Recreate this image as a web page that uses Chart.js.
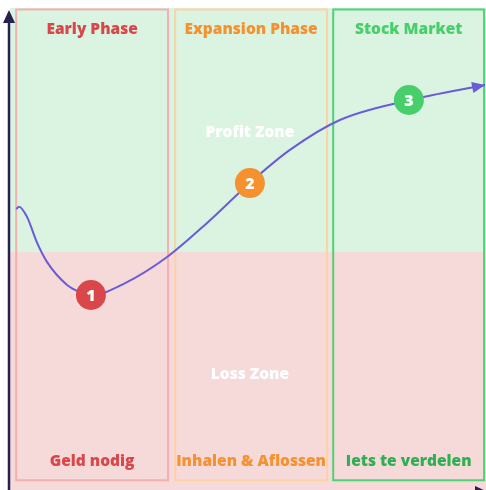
<!DOCTYPE html>
<html>
<head>
<meta charset="utf-8">
<script src="https://cdn.jsdelivr.net/npm/chart.js@4/dist/chart.umd.min.js"></script>
<style>
  body { margin: 0; background: #fff; }
  canvas { display: block; }
</style>
</head>
<body>
<canvas id="chart" width="486" height="490"></canvas>
<script>
// Phases (x in % of the time axis)
const phaseTitles = ['Early Phase', 'Expansion Phase', 'Stock Market'];
const phaseNotes = ['Geld nodig', 'Inhalen & Aflossen', 'Iets te verdelen'];
const phaseStart = [1.3, 34.7, 67.9];
const phaseEnd = [33.2, 66.6, 99.6];

// Zones
const zoneLabels = ['Profit Zone', 'Loss Zone'];

// Growth curve
const curveX = [1.3, 1.9, 3.6, 5.7, 7.8, 12.0, 14.7, 17.2, 24.2, 33.0, 41.4, 50.6, 58.8, 69.3, 84.0, 99.8];
const curveY = [17.4, 18.4, 14.1, 3.5, -4.4, -13.8, -16.7, -17.9, -13.0, -2.3, 11.7, 28.5, 41.7, 54.0, 62.2, 68.4];

// Numbered markers
const markerLabels = ['1', '2', '3'];
const markerX = [17.0, 50.4, 83.8];
const markerY = [-17.9, 28.1, 62.2];

const phaseColors = ['#d9474a', '#f5922f', '#48cf6c'];
const noteColors = ['#d9474a', '#f5922f', '#2fae52'];
const boxColors = ['#f2b0b0', '#fcd2a6', '#4fd174'];
const FONT = '"Open Sans", "DejaVu Sans", sans-serif';

const decor = {
  id: 'decor',
  beforeDatasetsDraw(chart) {
    const {ctx, chartArea: a, scales: {x, y}} = chart;
    ctx.save();
    // zones
    const y0 = y.getPixelForValue(0);
    ctx.fillStyle = '#daf4e1';
    ctx.fillRect(a.left, a.top, a.right - a.left, y0 - a.top);
    ctx.fillStyle = '#f6d9d9';
    ctx.fillRect(a.left, y0, a.right - a.left, a.bottom - y0);

    // phase boxes
    ctx.lineWidth = 2;
    phaseTitles.forEach((t, i) => {
      const l = x.getPixelForValue(phaseStart[i]);
      const r = x.getPixelForValue(phaseEnd[i]);
      const top = y.getPixelForValue(99.4);
      const bot = y.getPixelForValue(-94);
      ctx.strokeStyle = boxColors[i];
      ctx.strokeRect(l, top, r - l, bot - top);
      const cx = (l + r) / 2;
      ctx.textAlign = 'center';
      ctx.textBaseline = 'middle';
      ctx.font = '800 15.5px ' + FONT;
      ctx.fillStyle = phaseColors[i];
      ctx.fillText(t, cx, y.getPixelForValue(91.0));
      ctx.fillStyle = noteColors[i];
      ctx.fillText(phaseNotes[i], cx, y.getPixelForValue(-86.2));
    });

    // zone labels
    ctx.font = '800 15.5px ' + FONT;
    ctx.fillStyle = '#ffffff';
    ctx.fillText(zoneLabels[0], x.getPixelForValue(50.4), y.getPixelForValue(49.0));
    ctx.fillText(zoneLabels[1], x.getPixelForValue(50.4), y.getPixelForValue(-50.7));
    ctx.restore();
  },
  afterDatasetsDraw(chart) {
    const {ctx, chartArea: a, scales: {x, y}} = chart;
    ctx.save();
    // arrow head at end of curve
    const n = curveX.length;
    const px = x.getPixelForValue(curveX[n - 1]), py = y.getPixelForValue(curveY[n - 1]);
    const qx = x.getPixelForValue(curveX[n - 2]), qy = y.getPixelForValue(curveY[n - 2]);
    const ang = Math.atan2(py - qy, px - qx);
    ctx.fillStyle = '#6a5bd8';
    arrow(ctx, px, py, ang, 13, 5.5);

    // marker numbers
    ctx.font = '800 16px ' + FONT;
    ctx.fillStyle = '#fff';
    ctx.textAlign = 'center';
    ctx.textBaseline = 'middle';
    markerLabels.forEach((m, i) => {
      ctx.fillText(m, x.getPixelForValue(markerX[i]), y.getPixelForValue(markerY[i]) + 1);
    });

    // axes
    const ax = a.left - 1;
    ctx.strokeStyle = '#26214f';
    ctx.fillStyle = '#26214f';
    ctx.lineWidth = 2.5;
    ctx.beginPath();
    ctx.moveTo(ax, chart.height);
    ctx.lineTo(ax, 21);
    ctx.stroke();
    arrow(ctx, ax, 10, -Math.PI / 2, 13, 6);
    ctx.beginPath();
    ctx.moveTo(ax, chart.height + 2);
    ctx.lineTo(chart.width, chart.height + 2);
    ctx.stroke();
    arrow(ctx, chart.width + 2, chart.height + 2, 0, 13, 6);
    ctx.restore();
  }
};

function arrow(ctx, tx, ty, ang, len, half) {
  const bx = tx - len * Math.cos(ang), by = ty - len * Math.sin(ang);
  ctx.beginPath();
  ctx.moveTo(tx, ty);
  ctx.lineTo(bx + half * Math.sin(ang), by - half * Math.cos(ang));
  ctx.lineTo(bx - half * Math.sin(ang), by + half * Math.cos(ang));
  ctx.closePath();
  ctx.fill();
}

new Chart(document.getElementById('chart'), {
  type: 'scatter',
  data: {
    datasets: [
      {
        data: markerX.map((v, i) => ({x: v, y: markerY[i]})),
        backgroundColor: phaseColors,
        borderWidth: 0,
        pointRadius: 15,
        pointHoverRadius: 15,
        order: 0
      },
      {
        data: curveX.map((v, i) => ({x: v, y: curveY[i]})),
        showLine: true,
        borderColor: '#6a5bd8',
        borderWidth: 2,
        pointRadius: 0,
        cubicInterpolationMode: 'monotone',
        order: 1
      }
    ]
  },
  options: {
    responsive: false,
    animation: false,
    layout: {autoPadding: false, padding: {top: 8, left: 10, right: 0, bottom: 0}},
    plugins: {legend: {display: false}, tooltip: {enabled: false}},
    scales: {
      x: {type: 'linear', min: 0, max: 100, display: false},
      y: {type: 'linear', min: -98, max: 100, display: false}
    }
  },
  plugins: [decor]
});
</script>
</body>
</html>
